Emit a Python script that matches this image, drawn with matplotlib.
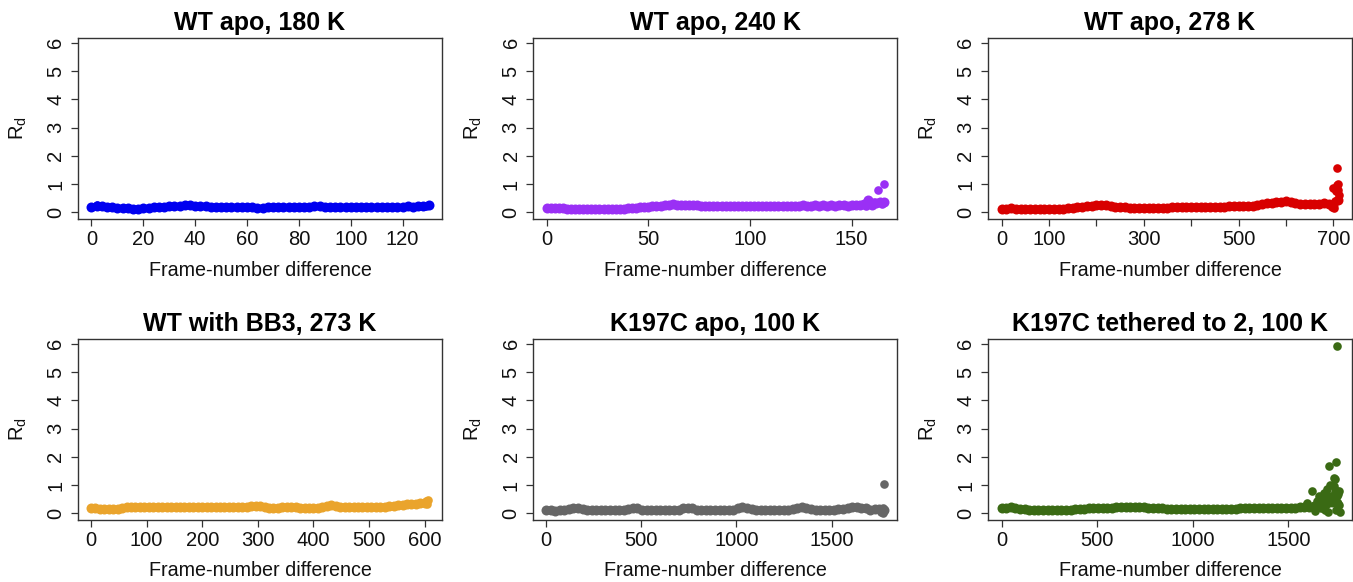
import numpy as np
import matplotlib
matplotlib.use("Agg")
import matplotlib.pyplot as plt
from matplotlib import font_manager

plt.rcParams['font.family'] = ['Liberation Sans', 'DejaVu Sans']
plt.rcParams['mathtext.fontset'] = 'custom'
plt.rcParams['mathtext.rm'] = 'Liberation Sans'
plt.rcParams['mathtext.it'] = 'Liberation Sans'

titles = ["WT apo, 180 K", "WT apo, 240 K", "WT apo, 278 K",
          "WT with BB3, 273 K", "K197C apo, 100 K", "K197C tethered to 2, 100 K"]
colors = ["#0000f0", "#9a30f5", "#d80000", "#eaa42c", "#666666", "#3a6a14"]

# --- WT apo, 180 K (frames 0..130, every 2nd frame)
x1 = np.arange(0, 131, 2)
y1 = [0.20, 0.24, 0.22, 0.18, 0.17, 0.16, 0.15, 0.14, 0.13, 0.13,
      0.14, 0.16, 0.17, 0.19, 0.20, 0.21, 0.23, 0.24, 0.25, 0.25,
      0.24, 0.22, 0.21, 0.20, 0.19, 0.18, 0.18, 0.17, 0.17, 0.17,
      0.17, 0.17, 0.16, 0.16, 0.17, 0.17, 0.17, 0.18, 0.18, 0.19,
      0.19, 0.20, 0.20, 0.21, 0.21, 0.20, 0.20, 0.19, 0.18, 0.18,
      0.17, 0.17, 0.18, 0.18, 0.19, 0.18, 0.20, 0.19, 0.18, 0.19,
      0.20, 0.21, 0.20, 0.22, 0.21, 0.26]
x1_extra = [2, 129]
y1_extra = [0.26, 0.22]

# --- WT apo, 240 K (frames 0..166, every 2nd frame)
x2 = np.arange(0, 167, 2)
y2 = [0.15, 0.15, 0.15, 0.14, 0.14, 0.13, 0.13, 0.12, 0.12, 0.12,
      0.11, 0.11, 0.11, 0.11, 0.11, 0.12, 0.12, 0.12, 0.13, 0.13,
      0.14, 0.15, 0.16, 0.17, 0.18, 0.20, 0.21, 0.23, 0.24, 0.26,
      0.27, 0.28, 0.27, 0.27, 0.26, 0.26, 0.25, 0.25, 0.24, 0.24,
      0.24, 0.23, 0.23, 0.22, 0.23, 0.22, 0.22, 0.21, 0.22, 0.21,
      0.21, 0.22, 0.21, 0.22, 0.23, 0.22, 0.21, 0.23, 0.24, 0.22,
      0.23, 0.24, 0.22, 0.25, 0.24, 0.23, 0.26, 0.24, 0.25, 0.23,
      0.26, 0.24, 0.25, 0.27, 0.23, 0.26, 0.25, 0.27, 0.28, 0.42,
      0.26, 0.33, 0.35, 0.38]
x2_extra = [157, 161, 165, 163, 166]
y2_extra = [0.22, 0.38, 0.30, 0.78, 1.00]

# --- WT apo, 278 K (frames 0..710, every 10th frame)
x3 = np.arange(0, 711, 10)
y3 = [0.12, 0.13, 0.14, 0.13, 0.12, 0.11, 0.11, 0.11, 0.11, 0.11,
      0.11, 0.12, 0.12, 0.13, 0.14, 0.16, 0.18, 0.20, 0.22, 0.24,
      0.25, 0.26, 0.25, 0.23, 0.20, 0.18, 0.17, 0.16, 0.15, 0.15,
      0.15, 0.15, 0.15, 0.16, 0.16, 0.16, 0.17, 0.17, 0.17, 0.18,
      0.18, 0.18, 0.19, 0.19, 0.19, 0.20, 0.20, 0.20, 0.21, 0.21,
      0.21, 0.22, 0.22, 0.24, 0.27, 0.30, 0.32, 0.34, 0.36, 0.38,
      0.41, 0.38, 0.34, 0.31, 0.29, 0.28, 0.28, 0.30, 0.32, 0.30,
      0.25, 0.45]
x3_extra = [698, 702, 700, 705, 708, 710, 711, 712, 707, 704]
y3_extra = [0.20, 0.15, 0.85, 0.75, 0.95, 1.00, 0.80, 0.60, 1.55, 0.40]

# --- WT with BB3, 273 K (frames 0..600, every 8th frame)
x4 = np.arange(0, 601, 8)
y4 = [0.20, 0.18, 0.16, 0.15, 0.15, 0.15, 0.16, 0.19, 0.22, 0.23,
      0.22, 0.21, 0.21, 0.21, 0.21, 0.21, 0.21, 0.21, 0.21, 0.21,
      0.21, 0.21, 0.21, 0.21, 0.21, 0.21, 0.21, 0.21, 0.21, 0.22,
      0.22, 0.22, 0.22, 0.23, 0.23, 0.24, 0.27, 0.27, 0.25, 0.22,
      0.19, 0.18, 0.19, 0.21, 0.23, 0.22, 0.21, 0.19, 0.18, 0.17,
      0.17, 0.19, 0.23, 0.27, 0.29, 0.26, 0.24, 0.23, 0.23, 0.23,
      0.23, 0.23, 0.23, 0.23, 0.23, 0.24, 0.24, 0.25, 0.26, 0.28,
      0.30, 0.32, 0.33, 0.34, 0.36, 0.38]
x4_extra = [602, 604, 606]
y4_extra = [0.44, 0.33, 0.47]

# --- K197C apo, 100 K (frames 0..1776, every 24th frame)
x5 = np.arange(0, 1777, 24)
y5 = [0.11, 0.10, 0.09, 0.10, 0.12, 0.16, 0.20, 0.19, 0.14, 0.11,
      0.10, 0.10, 0.10, 0.10, 0.10, 0.11, 0.11, 0.12, 0.15, 0.19,
      0.17, 0.13, 0.11, 0.10, 0.10, 0.10, 0.10, 0.11, 0.11, 0.13,
      0.17, 0.20, 0.17, 0.12, 0.11, 0.10, 0.11, 0.10, 0.13, 0.11,
      0.11, 0.13, 0.17, 0.21, 0.20, 0.15, 0.11, 0.10, 0.10, 0.11,
      0.11, 0.12, 0.12, 0.13, 0.15, 0.18, 0.21, 0.19, 0.15, 0.12,
      0.12, 0.12, 0.13, 0.13, 0.14, 0.16, 0.18, 0.21, 0.22, 0.20,
      0.17, 0.13, 0.15, 0.14, 0.12]
x5_extra = [1760, 1770, 1772, 1776]
y5_extra = [0.05, 0.02, 0.20, 1.02]

# --- K197C tethered to 2, 100 K (frames 0..1752, every 24th frame)
x6 = np.arange(0, 1753, 24)
y6 = [0.17, 0.18, 0.21, 0.19, 0.16, 0.14, 0.13, 0.12, 0.12, 0.12,
      0.12, 0.12, 0.12, 0.12, 0.13, 0.13, 0.14, 0.15, 0.16, 0.17,
      0.18, 0.19, 0.19, 0.20, 0.20, 0.21, 0.22, 0.22, 0.23, 0.24,
      0.22, 0.21, 0.20, 0.19, 0.18, 0.17, 0.16, 0.16, 0.15, 0.15,
      0.15, 0.15, 0.15, 0.15, 0.15, 0.15, 0.16, 0.16, 0.16, 0.16,
      0.16, 0.16, 0.17, 0.17, 0.17, 0.17, 0.18, 0.18, 0.18, 0.18,
      0.18, 0.19, 0.19, 0.19, 0.20, 0.21, 0.22, 0.24, 0.26, 0.30,
      0.33, 0.36, 0.40, 0.35]
x6_extra = [1757, 1748, 1715, 1740, 1743, 1623, 1658, 1684, 1719, 1754,
            1737, 1702, 1600, 1650, 1680, 1700, 1720, 1740, 1760, 1765,
            1770, 1710, 1750, 1690, 1730, 1745, 1755, 1640, 1670, 1766]
y6_extra = [5.93, 1.80, 1.68, 1.25, 1.20, 0.79, 0.60, 0.73, 1.00, 0.80,
            0.97, 0.85, 0.35, 0.45, 0.55, 0.50, 0.62, 0.50, 0.70, 0.30,
            0.05, 0.05, 0.10, 0.10, 0.40, 0.75, 0.60, 0.08, 0.20, 0.78]

series = [(x1, y1, x1_extra, y1_extra), (x2, y2, x2_extra, y2_extra),
          (x3, y3, x3_extra, y3_extra), (x4, y4, x4_extra, y4_extra),
          (x5, y5, x5_extra, y5_extra), (x6, y6, x6_extra, y6_extra)]

xlims = [(-5.2, 135.2), (-6.7, 172.3), (-28.9, 739.5),
         (-23.3, 631.0), (-68.5, 1844.0), (-71.7, 1833.0)]
xticks = [[0, 20, 40, 60, 80, 100, 120], [0, 50, 100, 150],
          [0, 100, 200, 300, 400, 500, 600, 700],
          [0, 100, 200, 300, 400, 500, 600], [0, 500, 1000, 1500],
          [0, 500, 1000, 1500]]
xticklabels = [None, None, ["0", "100", "", "300", "", "500", "", "700"],
               None, None, None]

W, H = 1353, 582
fig = plt.figure(figsize=(W / 100, H / 100), dpi=100)

lefts = [78, 533, 988]
tops = [38, 339]
pw, ph = 364, 181

for i in range(6):
    r, c = divmod(i, 3)
    l, t = lefts[c], tops[r]
    ax = fig.add_axes([l / W, 1 - (t + ph) / H, pw / W, ph / H])
    xs, ys, xe, ye = series[i]
    ax.plot(xs, ys, 'o', color=colors[i], ms=7.2, mew=0)
    ax.plot(xe, ye, 'o', color=colors[i], ms=6.2, mew=0)
    ax.set_xlim(*xlims[i])
    ax.set_ylim(-0.237, 6.167)
    ax.set_xticks(xticks[i])
    if xticklabels[i] is not None:
        ax.set_xticklabels(xticklabels[i])
    ax.set_yticks(range(7))
    for lab in ax.get_yticklabels():
        lab.set_rotation(90)
        lab.set_va('center')
    ax.tick_params(axis='both', direction='out', length=5, width=0.9,
                   color='#333333', labelsize=14.5, labelcolor='#111111')
    ax.tick_params(axis='y', pad=4)
    ax.tick_params(axis='x', pad=3)
    for s in ax.spines.values():
        s.set_color('#333333')
        s.set_linewidth(1.0)
    ax.set_xlabel("Frame-number difference", fontsize=14.2, color='#111111')
    ax.xaxis.set_label_coords(0.5, -51 / ph)
    ax.xaxis.label.set_va('center')
    ax.set_ylabel(r"R$_\mathregular{d}$", fontsize=14.5, color='#111111')
    ax.yaxis.set_label_coords(-60 / pw, 0.5)
    ax.yaxis.label.set_va('center')
    ax.text(0.5, 1 + 15 / ph, titles[i], transform=ax.transAxes,
            ha='center', va='center', fontsize=18, fontweight='bold')

fig.savefig("out.png", dpi=100)
